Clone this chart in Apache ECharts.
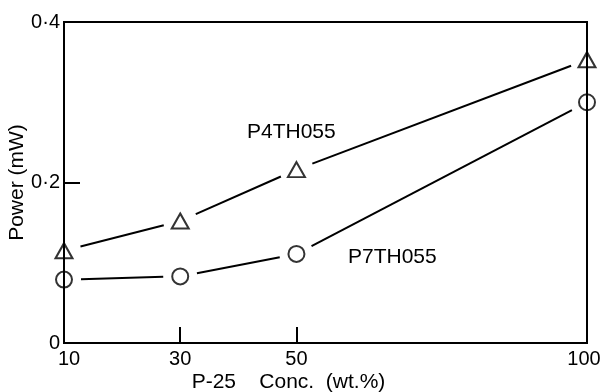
<!DOCTYPE html>
<html>
<head>
<meta charset="utf-8">
<script src="https://cdn.jsdelivr.net/npm/echarts@6/dist/echarts.min.js"></script>
<style>
  html, body { margin: 0; padding: 0; background: #fff; }
  #chart { width: 600px; height: 392px; }
</style>
</head>
<body>
<div id="chart"></div>
<script>
// data
const concentrations = [10, 30, 50, 100];          // P-25 conc. (wt.%)
const p4th055 = [0.115, 0.152, 0.216, 0.353];      // triangles
const p7th055 = [0.079, 0.083, 0.111, 0.300];      // circles
const xLabelValues = [10, 30, 50, 100];
const xTickValues = [30, 50];
const yTickValues = [0.2];

const ink = '#000';
const font = 'Liberation Sans';

// consecutive point pairs -> segments for the custom series
const toSegments = (xs, ys) => xs.slice(1).map((x, i) => [xs[i], ys[i], x, ys[i + 1]]);

// line drawn with a gap around each marker, like the original plot
const gap = 17;
const renderSegment = (params, api) => {
  const a = api.coord([api.value(0), api.value(1)]);
  const b = api.coord([api.value(2), api.value(3)]);
  const dx = b[0] - a[0], dy = b[1] - a[1];
  const len = Math.hypot(dx, dy);
  const ux = dx / len, uy = dy / len;
  return {
    type: 'line',
    shape: { x1: a[0] + ux * gap, y1: a[1] + uy * gap, x2: b[0] - ux * gap, y2: b[1] - uy * gap },
    style: { stroke: ink, lineWidth: 2 }
  };
};

const chart = echarts.init(document.getElementById('chart'));

chart.setOption({
  animation: false,
  backgroundColor: '#fff',
  textStyle: { fontFamily: font, color: ink },
  grid: {
    left: 64, right: 13, top: 22, bottom: 49,
    outerBoundsMode: 'none',
    containLabel: false,
    show: true, borderColor: ink, borderWidth: 2, backgroundColor: 'transparent'
  },
  xAxis: {
    type: 'value',
    min: 10, max: 100,
    name: 'P-25    Conc.  (wt.%)',
    nameLocation: 'middle',
    nameGap: 29,
    nameMoveOverlap: false,
    nameTextStyle: { fontSize: 21, color: ink, padding: [0, 74, 0, 0] },
    axisLine: { lineStyle: { color: ink, width: 2 } },
    axisTick: { show: true, inside: true, length: 16, customValues: xTickValues, lineStyle: { color: ink, width: 2 } },
    axisLabel: {
      customValues: xLabelValues, fontSize: 20, color: ink, margin: 6,
      // first/last labels sit a little inside the frame corners
      formatter: v => v === 10 ? '{first|10}' : v === 100 ? '{last|100}' : String(v),
      rich: {
        first: { fontSize: 20, fontFamily: font, color: ink, padding: [0, 0, 0, 10] },
        last: { fontSize: 20, fontFamily: font, color: ink, padding: [0, 6, 0, 0] }
      }
    },
    splitLine: { show: false }
  },
  yAxis: {
    type: 'value',
    min: 0, max: 0.4, interval: 0.2,
    name: 'Power (mW)',
    nameLocation: 'middle',
    nameGap: 36,
    nameMoveOverlap: false,
    nameTextStyle: { fontSize: 21, color: ink },
    axisLine: { show: true, lineStyle: { color: ink, width: 2 } },
    axisTick: { show: true, inside: true, length: 16, customValues: yTickValues, lineStyle: { color: ink, width: 2 } },
    axisLabel: {
      fontSize: 20, color: ink, margin: 4,
      formatter: v => v === 0 ? '0' : v.toFixed(1).replace('.', '·')
    },
    splitLine: { show: false }
  },
  graphic: [
    { type: 'text', left: 247, top: 122, style: { text: 'P4TH055', fontSize: 21, fontFamily: font, fill: ink } },
    { type: 'text', left: 348, top: 247, style: { text: 'P7TH055', fontSize: 21, fontFamily: font, fill: ink } }
  ],
  series: [
    {
      name: 'P4TH055 line',
      type: 'custom',
      renderItem: renderSegment,
      encode: { x: [0, 2], y: [1, 3] },
      data: toSegments(concentrations, p4th055)
    },
    {
      name: 'P7TH055 line',
      type: 'custom',
      renderItem: renderSegment,
      encode: { x: [0, 2], y: [1, 3] },
      data: toSegments(concentrations, p7th055)
    },
    {
      name: 'P4TH055',
      type: 'scatter',
      symbol: 'triangle',
      symbolSize: [17, 15],
      itemStyle: { color: 'transparent', borderColor: ink, borderWidth: 2 },
      data: concentrations.map((x, i) => [x, p4th055[i]])
    },
    {
      name: 'P7TH055',
      type: 'scatter',
      symbol: 'circle',
      symbolSize: 16,
      itemStyle: { color: 'transparent', borderColor: ink, borderWidth: 2 },
      data: concentrations.map((x, i) => [x, p7th055[i]])
    }
  ]
});
</script>
</body>
</html>
